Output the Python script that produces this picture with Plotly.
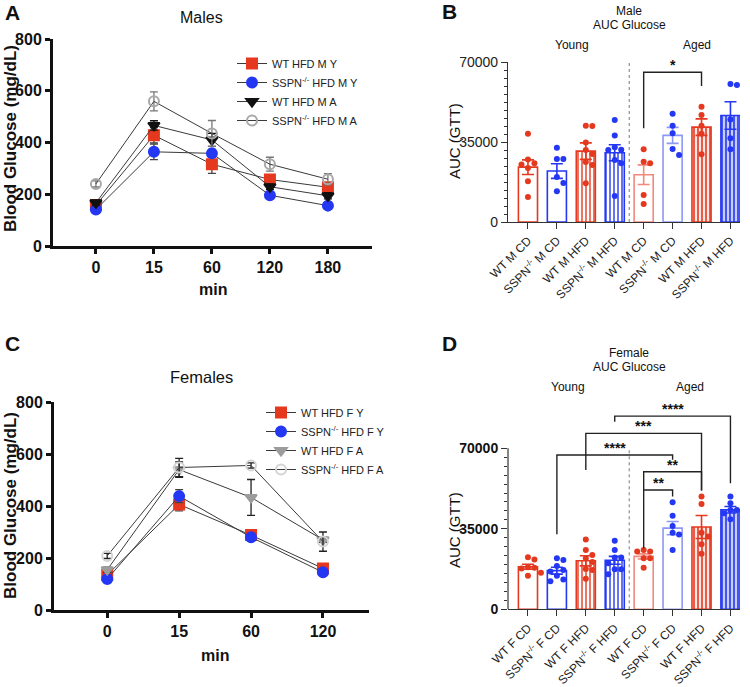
import plotly.graph_objects as go

W, H = 750, 687
FONT = "Liberation Sans, Arial, sans-serif"


def px(x):
    return x / W


def py(y):
    return 1 - y / H


# ---------------- Panel A data (Males GTT) ----------------
time_A = ["0", "15", "60", "120", "180"]
a_wt_my = [158, 428, 316, 257, 227]
a_wt_my_err = [10, 30, 35, 15, 15]
a_ss_my = [141, 364, 358, 196, 156]
a_ss_my_err = [10, 30, 15, 10, 10]
a_wt_ma = [167, 466, 410, 229, 194]
a_wt_ma_err = [10, 18, 25, 10, 12]
a_ss_ma = [240, 559, 435, 316, 258]
a_ss_ma_err = [12, 37, 50, 27, 22]

# ---------------- Panel C data (Females GTT) ----------------
time_C = ["0", "15", "60", "120"]
c_wt_fy = [135, 406, 288, 160]
c_wt_fy_err = [10, 25, 20, 10]
c_ss_fy = [119, 438, 280, 145]
c_ss_fy_err = [8, 25, 15, 8]
c_wt_fa = [155, 540, 433, 270]
c_wt_fa_err = [10, 30, 69, 10]
c_ss_fa = [208, 548, 556, 263]
c_ss_fa_err = [10, 35, 10, 37]

# ---------------- Panel B data (Male AUC) ----------------
b_labels = ["WT M CD", "SSPN<sup>-/-</sup> M CD", "WT M HFD", "SSPN<sup>-/-</sup> M HFD",
            "WT M CD", "SSPN<sup>-/-</sup> M CD", "WT M HFD", "SSPN<sup>-/-</sup> M HFD"]
b_points = [
    [38600, 25200, 25700, 27300, 23600, 17800, 10900],
    [32500, 27600, 27600, 17100, 19700, 13400],
    [42000, 42100, 34800, 31500, 29700, 26200, 24900, 16900],
    [44600, 37800, 32700, 31500, 31600, 25700, 27100, 11400],
    [31800, 25700, 26400, 11800, 7900],
    [47400, 42100, 38800, 31900, 29300],
    [50400, 46800, 42100, 38600, 29600],
    [60400, 59900, 44800, 36600, 31800],
]
b_mean = [24000, 22300, 31000, 30300, 20700, 37900, 41500, 46600]
b_sem = [3200, 3200, 3600, 3500, 4300, 3500, 3600, 6000]
b_brackets = [(4, 6, 41000, 65500, 59500, "*")]
auc_ticks = [0, 35000, 70000]
auc_ticktext = ["0", "35000", "70000"]

# ---------------- Panel D data (Female AUC) ----------------
d_labels = ["WT F CD", "SSPN<sup>-/-</sup> F CD", "WT F HFD", "SSPN<sup>-/-</sup> F HFD",
            "WT F CD", "SSPN<sup>-/-</sup> F CD", "WT F HFD", "SSPN<sup>-/-</sup> F HFD"]
d_points = [
    [21700, 22600, 18300, 17700, 18100, 14600, 15900],
    [21400, 22200, 17100, 18800, 14600, 13000, 12200, 16400],
    [30400, 25800, 22200, 23600, 20600, 17500, 17100, 13300],
    [29800, 25800, 22500, 22500, 20000, 17400, 17400, 15200],
    [25800, 25100, 25100, 22200, 22200, 18100],
    [46500, 40700, 33300, 32500, 36200, 25800],
    [49000, 45800, 33300, 31600, 28300, 24100],
    [49000, 46100, 43200, 43200, 39100, 40600, 41800],
]
d_mean = [18500, 16800, 21100, 21300, 23000, 35300, 35800, 43300]
d_sem = [1100, 1500, 2200, 1700, 1100, 2900, 5000, 1400]
d_brackets = [
    (4, 5, 26500, 51900, 49000, "**"),
    (4, 6, 51900, 59800, 51600, "**"),
    (1, 5, 32600, 67100, 65000, "****"),
    (2, 6, 60600, 76500, 51600, "***"),
    (3, 7, 81500, 84000, 54800, "****"),
]

RED = "#e5391f"
BLUE = "#2437f2"
RED_L = "#f2887a"
BLUE_L = "#8d98f6"

fig = go.Figure()

# ---------- axis domains (pixel based) ----------
axA = dict(x=[53, 372], y=[39, 246])
axC = dict(x=[54, 369], y=[402, 610])
axB = dict(x=[508, 740], y=[62, 222])
axD = dict(x=[508, 740], y=[402.3, 609.3])


def dom_x(a):
    return [px(a["x"][0]), px(a["x"][1])]


def dom_y(a):
    return [py(a["y"][1]), py(a["y"][0])]


# ---------- Line panels ----------
def add_line(xaxis, yaxis, legend, times, vals, errs, name, msym, mcol, mline, msize, ecol, lcol="#3a3a3a", ldash="solid"):
    fig.add_trace(go.Scatter(
        x=list(range(len(times))), y=vals, name=name, mode="lines+markers",
        xaxis=xaxis, yaxis=yaxis, legend=legend,
        line=dict(color=lcol, width=1, dash=ldash),
        marker=dict(symbol=msym, color=mcol, size=msize, line=dict(color=mline, width=2)),
        error_y=dict(type="data", array=errs, color=ecol, thickness=1.3, width=4),
    ))


add_line("x", "y", "legend", time_A, a_wt_my, a_wt_my_err, "WT HFD M Y", "square", RED, RED, 10, "#444")
add_line("x", "y", "legend", time_A, a_ss_my, a_ss_my_err, "SSPN<sup>-/-</sup> HFD M Y", "circle", BLUE, BLUE, 10, "#444")
add_line("x", "y", "legend", time_A, a_wt_ma, a_wt_ma_err, "WT HFD M A", "triangle-down", "#111", "#111", 10, "#111")
add_line("x", "y", "legend", time_A, a_ss_ma, a_ss_ma_err, "SSPN<sup>-/-</sup> HFD M A", "circle-open", "#a8a8a8", "#a8a8a8", 10, "#777")

add_line("x3", "y3", "legend2", time_C, c_wt_fy, c_wt_fy_err, "WT HFD F Y", "square", RED, RED, 10, "#444")
add_line("x3", "y3", "legend2", time_C, c_ss_fy, c_ss_fy_err, "SSPN<sup>-/-</sup> HFD F Y", "circle", BLUE, BLUE, 10, "#444")
add_line("x3", "y3", "legend2", time_C, c_wt_fa, c_wt_fa_err, "WT HFD F A", "triangle-down", "#9c9c9c", "#9c9c9c", 10, "#222")
add_line("x3", "y3", "legend2", time_C, c_ss_fa, c_ss_fa_err, "SSPN<sup>-/-</sup> HFD F A", "circle-open", "#d4d4d4", "#d4d4d4", 10, "#222")


# ---------- Bar panels ----------
def swarm(vals, px_per_unit, px_per_cat, diam):
    placed = []
    order = sorted(range(len(vals)), key=lambda i: -vals[i])
    res = [0.0] * len(vals)
    for i in order:
        yv = vals[i] * px_per_unit
        for c in [0, 1, -1, 2, -2, 3, -3]:
            xv = c * diam
            if all((xv - a) ** 2 + (yv - b) ** 2 >= (diam * 0.95) ** 2 for a, b in placed):
                break
        placed.append((xv, yv))
        res[i] = xv / px_per_cat
    return res


bar_style = [
    dict(line=RED, fill="white", pat=None, dot=RED),
    dict(line=BLUE, fill="white", pat=None, dot=BLUE),
    dict(line=RED, fill="white", pat=dict(shape="|", fgcolor=RED, bgcolor="white", size=4, solidity=0.35), dot=RED),
    dict(line=BLUE, fill="white", pat=dict(shape="|", fgcolor=BLUE, bgcolor="white", size=4, solidity=0.35), dot=BLUE),
    dict(line=RED_L, fill="white", pat=None, dot=RED),
    dict(line=BLUE_L, fill="white", pat=None, dot=BLUE),
    dict(line=RED, fill="white", pat=dict(shape="|", fgcolor=RED, bgcolor="#fde8e5", size=4, solidity=0.4), dot=RED),
    dict(line=BLUE, fill="white", pat=dict(shape="|", fgcolor=BLUE, bgcolor="#c9cdfb", size=4, solidity=0.4), dot=BLUE),
]


def add_bars(xaxis, yaxis, means, sems, points, ax, yspan):
    ppu = (ax["y"][1] - ax["y"][0]) / yspan
    for i in range(8):
        st = bar_style[i]
        marker = dict(color=st["fill"], line=dict(color=st["line"], width=1.6))
        if st["pat"]:
            marker["pattern"] = dict(fillmode="replace", **st["pat"])
        fig.add_trace(go.Bar(
            x=[i], y=[means[i]], xaxis=xaxis, yaxis=yaxis, width=0.66, showlegend=False,
            marker=marker,
            error_y=dict(type="data", array=[sems[i]], color=st["line"], thickness=1.6, width=6),
        ))
        offs = swarm(points[i], ppu, 29.0, 6.5)
        fig.add_trace(go.Scatter(
            x=[i + o for o in offs], y=points[i], mode="markers", xaxis=xaxis, yaxis=yaxis,
            showlegend=False, marker=dict(color=st["dot"], size=6),
        ))


add_bars("x2", "y2", b_mean, b_sem, b_points, axB, 70000)
add_bars("x4", "y4", d_mean, d_sem, d_points, axD, 90000)

shapes = []
annotations = []


def add_brackets(xref, yref, brackets):
    for i, j, lb, top, rb, lab in brackets:
        shapes.append(dict(type="path", xref=xref, yref=yref,
                           path=f"M {i},{lb} L {i},{top} L {j},{top} L {j},{rb}",
                           line=dict(color="#222", width=1.4)))
        annotations.append(dict(x=(i + j) / 2, y=top, xref=xref, yref=yref, text=lab,
                                showarrow=False, yanchor="bottom", yshift=-3,
                                font=dict(family=FONT, size=14, color="#111", weight="bold")))


add_brackets("x2", "y2", b_brackets)
add_brackets("x4", "y4", d_brackets)

for xr, yr in [("x2", "y2"), ("x4", "y4")]:
    shapes.append(dict(type="line", xref=xr, yref=yr, x0=3.5, x1=3.5, y0=0, y1=70000,
                       line=dict(color="#777", width=1, dash="dot")))
# D y-axis line only up to 70000
shapes.append(dict(type="line", xref="x4 domain", yref="y4", x0=0, x1=0, y0=0, y1=70000,
                   line=dict(color="#333", width=1.2)))


def ann(text, x, y, size, bold=False, angle=0, xanchor="center", yanchor="middle", color="#111"):
    annotations.append(dict(text=text, x=px(x), y=py(y), xref="paper", yref="paper", showarrow=False,
                            textangle=angle, xanchor=xanchor, yanchor=yanchor,
                            font=dict(family=FONT, size=size, color=color, weight="bold" if bold else "normal")))


ann("A", 3, 12, 21, True, xanchor="left")
ann("B", 449, 11, 21, True, xanchor="center")
ann("C", 3, 343, 21, True, xanchor="left")
ann("D", 449, 343, 21, True, xanchor="center")
ann("Males", 202, 18, 16)
ann("Females", 202, 377, 16.5)
ann("min", 213, 290, 16, True)
ann("min", 215, 655, 16, True)
ann("Blood Glucose (mg/dL)", 10, 139, 17, True, angle=-90)
ann("Blood Glucose (mg/dL)", 10, 506, 17, True, angle=-90)
ann("AUC (GTT)", 454, 141, 15, angle=-90)
ann("AUC (GTT)", 454, 530, 15, angle=-90)
ann("Male", 629, 11, 12)
ann("AUC Glucose", 629, 25, 12)
ann("Young", 572, 45, 12)
ann("Aged", 697, 45, 12)
ann("Female", 629, 353, 12)
ann("AUC Glucose", 629, 367, 12)
ann("Young", 568, 387, 12)
ann("Aged", 690, 387, 12)

line_x = dict(showline=True, linewidth=3, linecolor="#111", ticks="outside", ticklen=5, tickwidth=3,
              tickcolor="#111", showgrid=False, zeroline=False, automargin=False,
              tickfont=dict(family=FONT, size=16, color="#111", weight="bold"))
line_y = dict(line_x)

bar_x = dict(showline=True, linewidth=1.2, linecolor="#333", ticks="outside", ticklen=6, tickwidth=1.2,
             tickcolor="#333", showgrid=False, zeroline=False, tickangle=-45, automargin=False,
             tickvals=list(range(8)), range=[-0.69, 7.33],
             tickfont=dict(family=FONT, size=12, color="#222"))

fig.update_layout(
    width=W, height=H, margin=dict(l=0, r=0, t=0, b=0), autosize=False,
    paper_bgcolor="white", plot_bgcolor="white", barmode="overlay",
    xaxis=dict(line_x, domain=dom_x(axA), anchor="y", range=[-0.74, 4.76],
               tickvals=list(range(5)), ticktext=time_A),
    yaxis=dict(line_y, domain=dom_y(axA), anchor="x", range=[0, 800], tickvals=[0, 200, 400, 600, 800]),
    xaxis3=dict(line_x, domain=dom_x(axC), anchor="y3", range=[-0.74, 3.64],
                tickvals=list(range(4)), ticktext=time_C),
    yaxis3=dict(line_y, domain=dom_y(axC), anchor="x3", range=[0, 800], tickvals=[0, 200, 400, 600, 800]),
    xaxis2=dict(bar_x, domain=dom_x(axB), anchor="y2", ticktext=b_labels),
    yaxis2=dict(domain=dom_y(axB), anchor="x2", range=[0, 70000], tickvals=auc_ticks, ticktext=auc_ticktext,
                showline=True, linewidth=1.2, linecolor="#333", ticks="outside", ticklen=6, tickwidth=1.2,
                tickcolor="#333", showgrid=False, zeroline=False, automargin=False,
                tickfont=dict(family=FONT, size=14, color="#222"),
                minor=dict(tickmode="array", tickvals=[k * 3500 for k in range(21)], ticks="outside",
                           ticklen=3, tickwidth=1, tickcolor="#333", showgrid=False)),
    xaxis4=dict(bar_x, domain=dom_x(axD), anchor="y4", ticktext=d_labels),
    yaxis4=dict(domain=dom_y(axD), anchor="x4", range=[0, 90000], tickvals=auc_ticks, ticktext=auc_ticktext,
                showline=False, ticks="outside", ticklen=6, tickwidth=1.2,
                tickcolor="#333", showgrid=False, zeroline=False, automargin=False,
                tickfont=dict(family=FONT, size=14, color="#111", weight="bold"),
                minor=dict(tickmode="array", tickvals=[k * 70000 / 18 for k in range(19)], ticks="outside",
                           ticklen=3, tickwidth=1, tickcolor="#333", showgrid=False)),
    legend=dict(x=px(232), y=py(49), xanchor="left", yanchor="top", bgcolor="rgba(0,0,0,0)",
                font=dict(family=FONT, size=11, color="#222"), tracegroupgap=0),
    legend2=dict(x=px(261), y=py(398), xanchor="left", yanchor="top", bgcolor="rgba(0,0,0,0)",
                 font=dict(family=FONT, size=11, color="#222"), tracegroupgap=0),
    shapes=shapes, annotations=annotations,
)

fig.write_html("out.html", config={"displayModeBar": False},
               post_script="document.body.style.margin='0';document.body.style.overflow='hidden';")
